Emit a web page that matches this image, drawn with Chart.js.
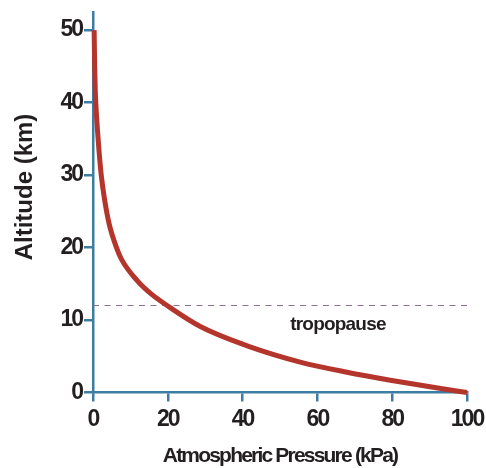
<!DOCTYPE html>
<html>
<head>
<meta charset="utf-8">
<script src="https://cdn.jsdelivr.net/npm/chart.js@4"></script>
<style>
html,body{margin:0;padding:0;background:#fff;}
#wrap{width:486px;height:468px;position:relative;}
</style>
</head>
<body>
<div id="wrap"><canvas id="c" width="486" height="468"></canvas></div>
<script>
const pressure = [0.3, 0.45, 0.6, 0.85, 1.2, 1.6, 2.2, 3.1, 4.3, 6.2, 7.7, 11.7, 15.3, 19.8, 28.7, 42, 55.4, 67.9, 79.5, 93, 100];
const altitude = [50, 45, 41.7, 39, 36.2, 33.4, 30, 26.6, 23.3, 20.1, 18.3, 15.5, 13.7, 12, 9.1, 6.3, 4.2, 2.8, 1.7, 0.55, 0];
const tropopauseAltitude = 12;
const tropopauseLabel = 'tropopause';
const xTicks = [0, 20, 40, 60, 80, 100];
const yTicks = [0, 10, 20, 30, 40, 50];
const xTitle = 'Atmospheric Pressure (kPa)';
const yTitle = 'Altitude (km)';

const AXIS = '#3d7ca3';
const INK = '#231f20';
const FONT = "'Liberation Sans', Arial, sans-serif";

const curve = pressure.map((p, i) => ({x: p, y: altitude[i]}));
const tropo = [{x: xTicks[0], y: tropopauseAltitude}, {x: xTicks[xTicks.length-1], y: tropopauseAltitude}];

const textPlugin = {
  id: 'texts',
  beforeDraw(chart) {
    chart.ctx.letterSpacing = '-2px';
  },
  afterDraw(chart) {
    const {ctx, scales, chartArea} = chart;
    ctx.save();
    ctx.fillStyle = INK;
    ctx.textAlign = 'center';
    ctx.textBaseline = 'middle';
    ctx.letterSpacing = '-0.8px';
    ctx.font = "bold 19px " + FONT;
    ctx.fillText(tropopauseLabel, scales.x.getPixelForValue(65.5), scales.y.getPixelForValue(tropopauseAltitude) + 19);
    ctx.letterSpacing = '-1.8px';
    ctx.font = "bold 21px " + FONT;
    ctx.fillText(xTitle, (chartArea.left + chartArea.right) / 2, 456);
    ctx.letterSpacing = '0px';
    ctx.font = "bold 24px " + FONT;
    ctx.translate(25, 187);
    ctx.rotate(-Math.PI / 2);
    ctx.fillText(yTitle, 0, 0);
    ctx.restore();
    ctx.letterSpacing = '0px';
  }
};

new Chart(document.getElementById('c'), {
  type: 'line',
  data: {
    datasets: [
      {
        data: curve,
        borderColor: '#b3352b',
        borderWidth: 5,
        borderCapStyle: 'butt',
        borderJoinStyle: 'round',
        pointRadius: 0,
        cubicInterpolationMode: 'monotone',
        clip: false,
        order: 0
      },
      {
        data: tropo,
        borderColor: '#8c6f8f',
        borderWidth: 1,
        borderDash: [6, 5.5],
        pointRadius: 0,
        order: 1
      }
    ]
  },
  options: {
    responsive: false,
    animation: false,
    layout: {padding: {left: 0, right: 19, top: 12, bottom: 0}},
    plugins: {legend: {display: false}, tooltip: {enabled: false}},
    scales: {
      x: {
        type: 'linear',
        min: 0, max: 100,
        afterBuildTicks(s) { s.ticks = xTicks.map(v => ({value: v})); },
        afterFit(s) { s.height = 75.5; s.paddingRight = 0; s.paddingLeft = 0; },
        border: {display: true, color: AXIS, width: 2.5},
        grid: {display: true, drawOnChartArea: false, drawTicks: true, tickLength: 9, color: AXIS, lineWidth: 2.5},
        ticks: {color: INK, font: {family: FONT, size: 23, weight: 'bold'}, padding: 4, maxRotation: 0},
        title: {display: false}
      },
      y: {
        type: 'linear',
        min: 0, max: 52.5,
        afterBuildTicks(s) { s.ticks = yTicks.map(v => ({value: v})); },
        afterFit(s) { s.width = 93; s.paddingTop = 0; s.paddingBottom = 0; },
        border: {display: true, color: AXIS, width: 2.5},
        grid: {display: true, drawOnChartArea: false, drawTicks: true, tickLength: 9, color: AXIS, lineWidth: 2.5},
        ticks: {color: INK, font: {family: FONT, size: 23, weight: 'bold'}, padding: 2},
        title: {display: false}
      }
    }
  },
  plugins: [textPlugin]
});
</script>
</body>
</html>
